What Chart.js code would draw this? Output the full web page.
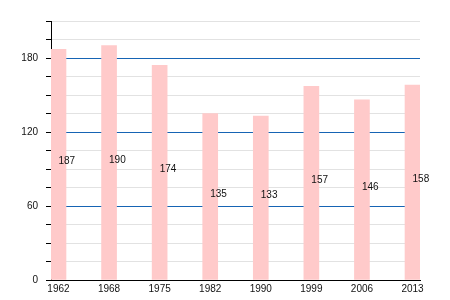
<!DOCTYPE html>
<html><head><meta charset="utf-8">
<script src="https://cdn.jsdelivr.net/npm/chart.js@4/dist/chart.umd.min.js"></script>
<style>html,body{margin:0;padding:0;background:#fff}#wrap{width:450px;height:300px}</style>
</head><body><div id="wrap"><canvas id="c" width="450" height="300"></canvas></div>
<script>
const years = ['1962','1968','1975','1982','1990','1999','2006','2013'];
const values = [187,190,174,135,133,157,146,158];
const yTicks = [0,60,120,180];

const barLabels = {
  id:'barLabels',
  afterDatasetsDraw(chart){
    const ctx = chart.ctx;
    const meta = chart.getDatasetMeta(0);
    ctx.save();
    ctx.font = '10px "Liberation Sans", Arial, sans-serif';
    ctx.fillStyle = '#111';
    ctx.textAlign = 'left';
    ctx.textBaseline = 'alphabetic';
    meta.data.forEach((el,i)=>{
      const mid = (el.y + el.base)/2;
      ctx.fillText(String(values[i]), el.x, mid);
    });
    ctx.restore();
  }
};

const gridColors = [];
for (let v = 0; v <= 210; v += 15) gridColors.push(v % 60 === 0 ? 'rgb(22,100,180)' : 'rgb(226,226,226)');

new Chart(document.getElementById('c'), {
  type:'bar',
  data:{
    datasets:[{
      data: values.map((v,i)=>({x:i,y:v})),
      backgroundColor:'#ffcaca',
      borderWidth:0,
      barThickness:15
    }]
  },
  options:{
    responsive:false,
    animation:false,
    devicePixelRatio:1,
    layout:{padding:{top:21,right:30,left:0,bottom:0}},
    plugins:{legend:{display:false},tooltip:{enabled:false}},
    scales:{
      x:{
        type:'linear',
        offset:false,
        min:-0.148, max:7.148,
        afterBuildTicks(s){ s.ticks = years.map((y,i)=>({value:i})); },
        afterFit(s){ s.height = 20; },
        grid:{display:false, drawTicks:false},
        border:{color:'#000', width:1},
        ticks:{
          callback:(v)=>years[v] ?? '',
          font:{size:10, family:'"Liberation Sans", Arial, sans-serif'},
          color:'#111', padding:3, maxRotation:0, autoSkip:false
        }
      },
      y:{
        min:0, max:210,
        afterFit(s){ s.width = 51; },
        ticks:{
          stepSize:15,
          callback:(v)=> yTicks.includes(v) ? String(v) : '',
          font:{size:10, family:'"Liberation Sans", Arial, sans-serif'},
          color:'#111', padding:8, autoSkip:false
        },
        border:{color:'#000', width:1},
        grid:{
          color: gridColors,
          tickColor:'#000',
          tickLength:5,
          lineWidth:1
        }
      }
    }
  },
  plugins:[barLabels]
});
</script></body></html>
